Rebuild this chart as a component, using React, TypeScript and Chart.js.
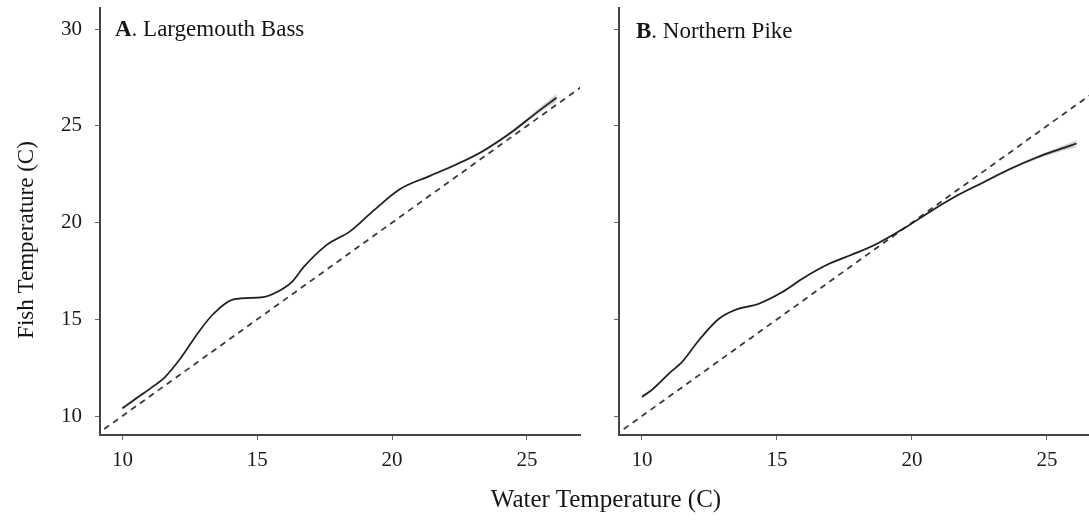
import React, { useEffect, useRef } from 'react';
import { Chart, registerables } from 'chart.js';

Chart.register(...registerables);

const FONT = "'Liberation Serif', 'Times New Roman', Times, serif";

// Panel A: Largemouth Bass
const waterA = [10, 10.42, 11.04, 11.59, 12.15, 12.83, 13.38, 14.12, 15.23, 15.73, 16.28, 16.72, 17.58, 18.44, 19.31, 20.3, 21.41, 22.4, 23.38, 24.49, 25.36, 26.1];
const fishA = [10.4, 10.82, 11.43, 12.03, 12.97, 14.35, 15.29, 16.03, 16.15, 16.41, 16.92, 17.7, 18.85, 19.55, 20.62, 21.74, 22.42, 23.02, 23.71, 24.74, 25.69, 26.46];
const seA = [0.1, 0.07, 0.05, 0.05, 0.05, 0.05, 0.05, 0.05, 0.05, 0.05, 0.05, 0.05, 0.05, 0.05, 0.05, 0.05, 0.05, 0.06, 0.07, 0.08, 0.12, 0.2];

// Panel B: Northern Pike
const waterB = [10, 10.38, 11.0, 11.49, 12.11, 12.85, 13.47, 14.33, 15.2, 15.94, 16.93, 17.79, 18.69, 19.68, 20.73, 21.66, 22.64, 23.63, 24.62, 25.48, 26.1];
const fishB = [10.99, 11.37, 12.2, 12.8, 13.92, 15.03, 15.5, 15.81, 16.41, 17.1, 17.87, 18.35, 18.9, 19.68, 20.62, 21.39, 22.08, 22.77, 23.37, 23.8, 24.09];
const seB = [0.1, 0.07, 0.05, 0.05, 0.05, 0.05, 0.05, 0.05, 0.05, 0.05, 0.05, 0.05, 0.05, 0.05, 0.05, 0.05, 0.06, 0.07, 0.09, 0.12, 0.18];

// 1:1 reference line end points
const oneToOne = [8, 28];

const xTicks = [10, 15, 20, 25];
const yTicks = [10, 15, 20, 25, 30];

const Y_MIN = 9.02;
const Y_MAX = 31.1;

type PanelProps = {
  water: number[];
  fish: number[];
  se: number[];
  letter: string;
  name: string;
  xMin: number;
  xMax: number;
  left: number;
  width: number;
  yAxisWidth: number;
  padRight: number;
  showYLabels: boolean;
  titleX: number;
  titleY: number;
  yTitle?: string;
};

function Panel(p: PanelProps) {
  const ref = useRef<HTMLCanvasElement | null>(null);

  useEffect(() => {
    if (!ref.current) return;
    const pts = p.water.map((x, i) => ({ x, y: p.fish[i] }));
    const lower = p.water.map((x, i) => ({ x, y: p.fish[i] - p.se[i] }));
    const upper = p.water.map((x, i) => ({ x, y: p.fish[i] + p.se[i] }));
    const ref11 = oneToOne.map((v) => ({ x: v, y: v }));

    const titlePlugin = {
      id: 'panelTitle',
      afterDraw(chart: any) {
        const ctx = chart.ctx;
        ctx.save();
        ctx.fillStyle = '#151515';
        ctx.textBaseline = 'alphabetic';
        ctx.textAlign = 'left';
        ctx.font = `bold 23px ${FONT}`;
        ctx.fillText(p.letter, p.titleX, p.titleY);
        const w = ctx.measureText(p.letter).width;
        ctx.font = `23px ${FONT}`;
        ctx.fillText('. ' + p.name, p.titleX + w, p.titleY);
        if (p.yTitle) {
          ctx.translate(27, 240);
          ctx.rotate(-Math.PI / 2);
          ctx.textAlign = 'center';
          ctx.textBaseline = 'middle';
          ctx.font = `23px ${FONT}`;
          ctx.fillText(p.yTitle, 0, 0);
        }
        ctx.restore();
      },
    };

    const chart = new Chart(ref.current, {
      type: 'line',
      data: {
        datasets: [
          {
            data: lower,
            borderWidth: 0,
            pointRadius: 0,
            fill: false,
            cubicInterpolationMode: 'monotone',
            borderColor: 'rgba(0,0,0,0)',
          },
          {
            data: upper,
            borderWidth: 0,
            pointRadius: 0,
            fill: '-1',
            cubicInterpolationMode: 'monotone',
            borderColor: 'rgba(0,0,0,0)',
            backgroundColor: 'rgba(0,0,0,0.18)',
          },
          {
            data: pts,
            borderColor: '#262626',
            borderWidth: 1.7,
            pointRadius: 0,
            fill: false,
            cubicInterpolationMode: 'monotone',
          },
          {
            data: ref11,
            borderColor: '#3a3a3a',
            borderWidth: 1.8,
            borderDash: [6, 5],
            pointRadius: 0,
            fill: false,
            tension: 0,
          },
        ],
      },
      options: {
        animation: false,
        responsive: false,
        events: [],
        layout: { padding: { left: 0, top: 8, right: p.padRight, bottom: 0 } },
        plugins: {
          legend: { display: false },
          tooltip: { enabled: false },
          title: { display: false },
        },
        scales: {
          x: {
            type: 'linear',
            min: p.xMin,
            max: p.xMax,
            afterBuildTicks: (s: any) => {
              s.ticks = xTicks.map((v) => ({ value: v }));
            },
            afterFit: (s: any) => {
              s.height = 87;
              s.paddingLeft = 0;
              s.paddingRight = 0;
            },
            border: { display: true, color: '#444', width: 2 },
            grid: {
              display: true,
              drawOnChartArea: false,
              drawTicks: true,
              tickLength: 5,
              tickColor: '#666',
              tickWidth: 1,
            },
            ticks: {
              color: '#1a1a1a',
              font: { family: FONT, size: 21 },
              padding: 8,
              maxRotation: 0,
            },
          },
          y: {
            type: 'linear',
            min: Y_MIN,
            max: Y_MAX,
            afterBuildTicks: (s: any) => {
              s.ticks = yTicks.map((v) => ({ value: v }));
            },
            afterFit: (s: any) => {
              s.width = p.yAxisWidth;
              s.paddingTop = 0;
              s.paddingBottom = 0;
            },
            border: { display: true, color: '#444', width: 2 },
            grid: {
              display: true,
              drawOnChartArea: false,
              drawTicks: true,
              tickLength: 5,
              tickColor: '#666',
              tickWidth: 1,
            },
            ticks: {
              display: p.showYLabels,
              color: '#1a1a1a',
              font: { family: FONT, size: 21 },
              padding: 13,
            },
          },
        },
      } as any,
      plugins: [titlePlugin],
    });
    return () => chart.destroy();
  }, []);

  return (
    <canvas
      ref={ref}
      width={p.width}
      height={522}
      style={{ position: 'absolute', left: p.left, top: 0, width: p.width, height: 522 }}
    />
  );
}

export default function App() {
  return (
    <div
      style={{
        position: 'fixed',
        left: 0,
        top: 0,
        width: 1089,
        height: 522,
        overflow: 'hidden',
        background: '#ffffff',
      }}
    >
      <Panel
        water={waterA}
        fish={fishA}
        se={seA}
        letter="A"
        name="Largemouth Bass"
        xMin={9.17}
        xMax={26.97}
        left={0}
        width={589}
        yAxisWidth={100}
        padRight={9}
        showYLabels={true}
        titleX={115}
        titleY={36}
        yTitle="Fish Temperature (C)"
      />
      <Panel
        water={waterB}
        fish={fishB}
        se={seB}
        letter="B"
        name="Northern Pike"
        xMin={9.15}
        xMax={26.56}
        left={589}
        width={500}
        yAxisWidth={30}
        padRight={0}
        showYLabels={false}
        titleX={47}
        titleY={38}
      />
      <div
        style={{
          position: 'absolute',
          left: 606,
          top: 486,
          transform: 'translateX(-50%)',
          whiteSpace: 'nowrap',
          fontFamily: FONT,
          fontSize: 25,
          lineHeight: '25px',
          color: '#151515',
        }}
      >
        Water Temperature (C)
      </div>
    </div>
  );
}
